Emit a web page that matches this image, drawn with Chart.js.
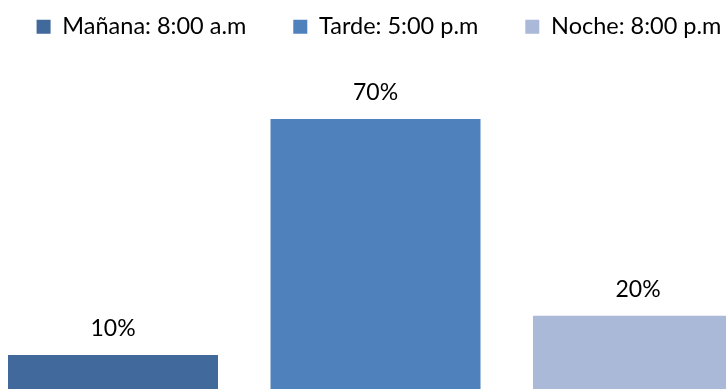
<!DOCTYPE html>
<html>
<head>
<meta charset="utf-8">
<script src="https://cdn.jsdelivr.net/npm/chart.js@4/dist/chart.umd.min.js"></script>
<style>
html,body{margin:0;padding:0;background:#fff;}
#wrap{width:726px;height:389px;position:relative;}
</style>
</head>
<body>
<div id="wrap"><canvas id="c" width="726" height="389"></canvas></div>
<script>
const categories = ["Mañana: 8:00 a.m", "Tarde: 5:00 p.m", "Noche: 8:00 p.m"];
const positions = [0, 1, 2];
const values = [10, 70, 20];
const valueLabels = ["10%", "70%", "20%"];
const colors = ["#41699C", "#4F81BD", "#AAB9D7"];

const FONT = "Lato";

const dataLabelPlugin = {
  id: "dataLabels",
  afterDatasetsDraw(chart) {
    const ctx = chart.ctx;
    const meta = chart.getDatasetMeta(0);
    ctx.save();
    ctx.font = "23px " + FONT;
    ctx.fillStyle = "#000";
    ctx.textAlign = "center";
    ctx.textBaseline = "alphabetic";
    meta.data.forEach((bar, i) => {
      ctx.fillText(valueLabels[i], bar.x, bar.y - 19);
    });
    ctx.restore();
  }
};

new Chart(document.getElementById("c"), {
  type: "bar",
  data: {
    datasets: [{
      data: values.map((v, i) => ({ x: positions[i], y: v })),
      backgroundColor: colors,
      borderWidth: 0,
      categoryPercentage: 1.0,
      barPercentage: 0.8
    }]
  },
  options: {
    responsive: false,
    animation: false,
    layout: { padding: { top: -32, left: -16, right: -48, bottom: 0 } },
    scales: {
      x: {
        type: "linear",
        display: false,
        offset: false,
        min: -0.4305,
        max: 2.3352,
        grid: { display: false },
        ticks: { stepSize: 1, includeBounds: false }
      },
      y: { display: false, min: 1.35, max: 87.92, grid: { display: false } }
    },
    plugins: {
      tooltip: { enabled: false },
      legend: {
        display: true,
        position: "top",
        align: "center",
        labels: {
          font: { family: FONT, size: 23.5 },
          color: "#000",
          boxWidth: 14,
          boxHeight: 14,
          padding: 47,
          generateLabels(chart) {
            return categories.map((c, i) => ({
              text: c,
              fillStyle: colors[i],
              strokeStyle: colors[i],
              lineWidth: 0,
              hidden: false,
              index: i
            }));
          }
        }
      }
    }
  },
  plugins: [dataLabelPlugin]
});
</script>
</body>
</html>
